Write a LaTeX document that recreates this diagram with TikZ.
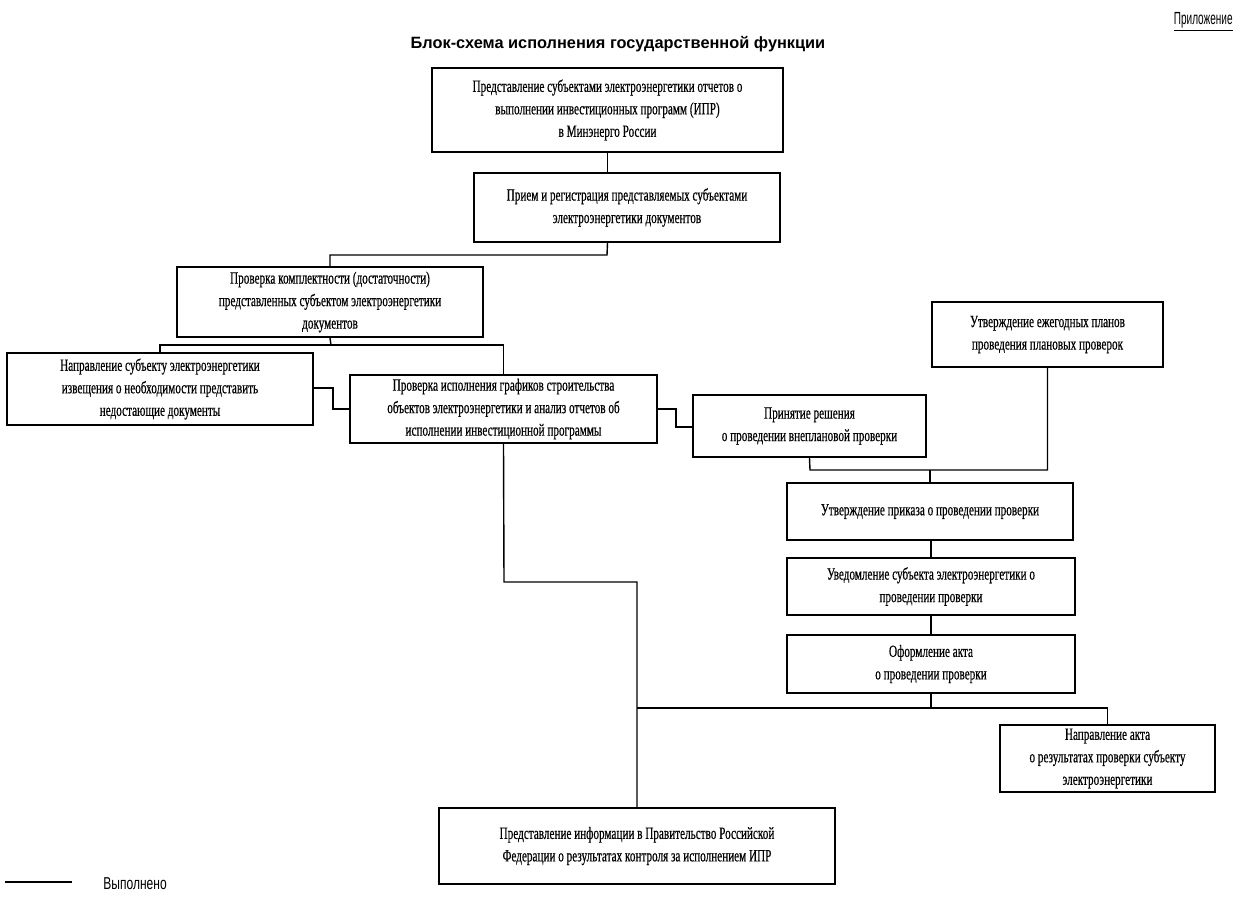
\documentclass[tikz,border=0pt]{standalone}
\usepackage{fontspec}
\setmainfont[FakeStretch=0.65,FakeBold=0.5]{Liberation Serif}
\newfontfamily\titlefont{Liberation Sans}
\newfontfamily\appxfont[FakeStretch=0.57]{Liberation Sans}
\newfontfamily\legendfont[FakeStretch=0.7]{Liberation Sans}
\begin{document}
\begin{tikzpicture}[x=0.02cm,y=-0.02cm,
  box/.style 2 args={draw, line width=1.3pt, align=center, inner sep=0pt,
    minimum width=#1*0.02cm, minimum height=#2*0.02cm,
    font=\fontsize{9.8}{12.8}\selectfont},
  link/.style={line width=0.8pt}]
\useasboundingbox (0,0) rectangle (1248,903);
% title and header
\node[anchor=east, inner sep=0pt, font=\appxfont\fontsize{10}{11}\selectfont] (appx) at (1233,22) {\underline{Приложение}};
\node[font=\titlefont\bfseries\fontsize{9.3}{11}\selectfont] (title) at (618,44) {Блок-схема исполнения государственной функции};
% boxes
\node[box={351}{84}] (b1) at (607.5,110) {Представление субъектами электроэнергетики отчетов о\\выполнении инвестиционных программ (ИПР)\\в Минэнерго России};
\node[box={306}{69}] (b2) at (627,207.5) {Прием и регистрация представляемых субъектами\\электроэнергетики документов};
\node[box={306}{70}] (b3) at (330,302) {Проверка комплектности (достаточности)\\представленных субъектом электроэнергетики\\документов};
\node[box={306}{72}] (b4) at (160,389) {Направление субъекту электроэнергетики\\извещения о необходимости представить\\недостающие документы};
\node[box={307}{68}] (b5) at (503.5,409) {Проверка исполнения графиков строительства\\объектов электроэнергетики и анализ отчетов об\\исполнении инвестиционной программы};
\node[box={233}{62}] (b6) at (809.5,426) {Принятие решения\\о проведении внеплановой проверки};
\node[box={231}{65}] (b7) at (1047.5,334.5) {Утверждение ежегодных планов\\проведения плановых проверок};
\node[box={286}{57}] (b8) at (930,511.5) {Утверждение приказа о проведении проверки};
\node[box={288}{57}] (b9) at (931,586.5) {Уведомление субъекта электроэнергетики о\\проведении проверки};
\node[box={288}{58}] (b10) at (931,664) {Оформление акта\\о проведении проверки};
\node[box={215}{67}] (b11) at (1107.5,758.5) {Направление акта\\о результатах проверки субъекту\\электроэнергетики};
\node[box={396}{76}] (b12) at (637,846) {Представление информации в Правительство Российской\\Федерации о результатах контроля за исполнением ИПР};
% junction coordinates
\coordinate (j1) at (607,255);
\coordinate (j2) at (331,345);
\coordinate (j3) at (810,470);
\coordinate (j4) at (931,708);
\coordinate (j5) at (504,582);
% connectors
\draw[link] (b1.south) -- (b1.south |- b2.north);
\draw[link] (b1.south |- b2.south) -- (j1) -| (b3.north);
\draw[link] (b3.south) -- (j2);
\draw[link] (b4.north) |- (j2) -| (b5.north);
\draw[link] ([yshift=1.1*0.02cm]b4.east) -- ++(19,0) |- (b5.west);
\draw[link] (b5.east) -- ++(18,0) |- ([yshift=-1*0.02cm]b6.west);
\draw[link] (b6.south) -- (j3) -| (b7.south);
\draw[link] (j3 -| b8.north) -- (b8.north);
\draw[link] (b8.south -| b9.north) -- (b9.north);
\draw[link] (b9.south) -- (b10.north);
\draw[link] (b10.south) -- (j4);
\draw[link] (j4 -| b12.north) -- (j4) -| (b11.north);
\draw[link] (b5.south) -- (j5) -| (b12.north);
% legend
\coordinate (lg1) at (5,882);
\coordinate (lg2) at (72,882);
\draw[line width=1pt] (lg1) -- (lg2);
\node[anchor=west, inner sep=0pt, font=\legendfont\fontsize{9.8}{11}\selectfont] (lgt) at (103,884) {Выполнено};
\end{tikzpicture}
\end{document}
